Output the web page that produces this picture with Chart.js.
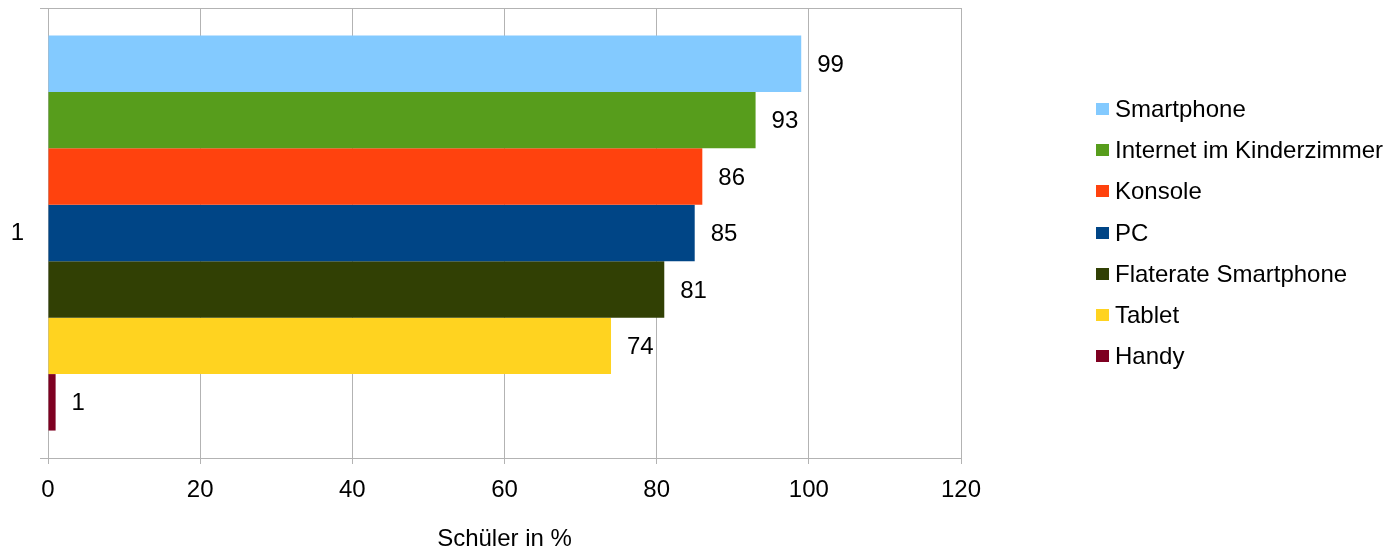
<!DOCTYPE html>
<html lang="de">
<head>
  <meta charset="UTF-8">
  <title>Schüler in %</title>
  <script src="https://cdn.jsdelivr.net/npm/chart.js"></script>
  <style>
    html, body { margin: 0; padding: 0; background: #fff; }
    #wrap { position: relative; width: 1393px; height: 554px; }
    #legend {
      position: absolute; left: 1096px; top: 88px;
      font-family: "Liberation Sans", Arial, sans-serif; font-size: 24px; color: #000;
    }
    .item { height: 41.3px; display: flex; align-items: center; white-space: nowrap; }
    .box { width: 13px; height: 12px; margin-right: 6px; flex: none; }
  </style>
</head>
<body>
  <div id="wrap">
    <canvas id="chart" width="1393" height="554"></canvas>
    <div id="legend"></div>
  </div>

  <script>
    const categories = ['1'];
    const seriesNames = ['Smartphone', 'Internet im Kinderzimmer', 'Konsole', 'PC', 'Flaterate Smartphone', 'Tablet', 'Handy'];
    const seriesValues = [99, 93, 86, 85, 81, 74, 1];
    const seriesColors = ['#83caff', '#579d1c', '#ff420e', '#004586', '#314004', '#ffd320', '#7e0021'];
    const xTicks = [0, 20, 40, 60, 80, 100, 120];

    const fontFamily = '"Liberation Sans", Arial, sans-serif';
    const gridColor = '#b3b3b3';

    // Werte rechts neben die Balken schreiben
    const valueLabels = {
      id: 'valueLabels',
      afterDatasetsDraw(chart) {
        const ctx = chart.ctx;
        ctx.save();
        ctx.font = '24px ' + fontFamily;
        ctx.fillStyle = '#000';
        ctx.textAlign = 'left';
        ctx.textBaseline = 'middle';
        chart.data.datasets.forEach((ds, i) => {
          chart.getDatasetMeta(i).data.forEach((bar, j) => {
            ctx.fillText(ds.data[j], bar.x + 16, bar.y + 1.5);
          });
        });
        ctx.restore();
      }
    };

    const datasets = seriesNames.map((name, i) => ({
      label: name,
      data: [seriesValues[i]],
      backgroundColor: seriesColors[i],
      borderWidth: 0,
      categoryPercentage: 0.878,
      barPercentage: 1.0
    }));

    const chart = new Chart(document.getElementById('chart'), {
      type: 'bar',
      data: { labels: categories, datasets: datasets },
      options: {
        indexAxis: 'y',
        responsive: false,
        animation: false,
        layout: { padding: { top: 8, left: 0, right: 432, bottom: 0 } },
        plugins: {
          legend: { display: false },
          tooltip: { enabled: false }
        },
        scales: {
          x: {
            min: 0,
            max: 120,
            afterBuildTicks: (scale) => { scale.ticks = xTicks.map(v => ({ value: v })); },
            afterFit: (scale) => { scale.height = 96; },
            grid: { color: gridColor, tickLength: 6 },
            border: { color: gridColor },
            ticks: { font: { family: fontFamily, size: 24 }, color: '#000', padding: 12, maxRotation: 0 },
            title: {
              display: true,
              text: 'Schüler in %',
              font: { family: fontFamily, size: 24 },
              color: '#000',
              padding: { top: 20, bottom: 0 }
            }
          },
          y: {
            afterFit: (scale) => {
              scale.width = 48;
              scale.paddingTop = 0;
              scale.paddingBottom = 0;
            },
            grid: { color: gridColor, tickLength: 8, offset: true },
            border: { color: gridColor },
            ticks: { font: { family: fontFamily, size: 24 }, color: '#000', padding: 16 }
          }
        }
      },
      plugins: [valueLabels]
    });

    // Legende
    const legend = document.getElementById('legend');
    seriesNames.forEach((name, i) => {
      const row = document.createElement('div');
      row.className = 'item';
      const box = document.createElement('span');
      box.className = 'box';
      box.style.background = seriesColors[i];
      row.appendChild(box);
      row.appendChild(document.createTextNode(name));
      legend.appendChild(row);
    });
  </script>
</body>
</html>
